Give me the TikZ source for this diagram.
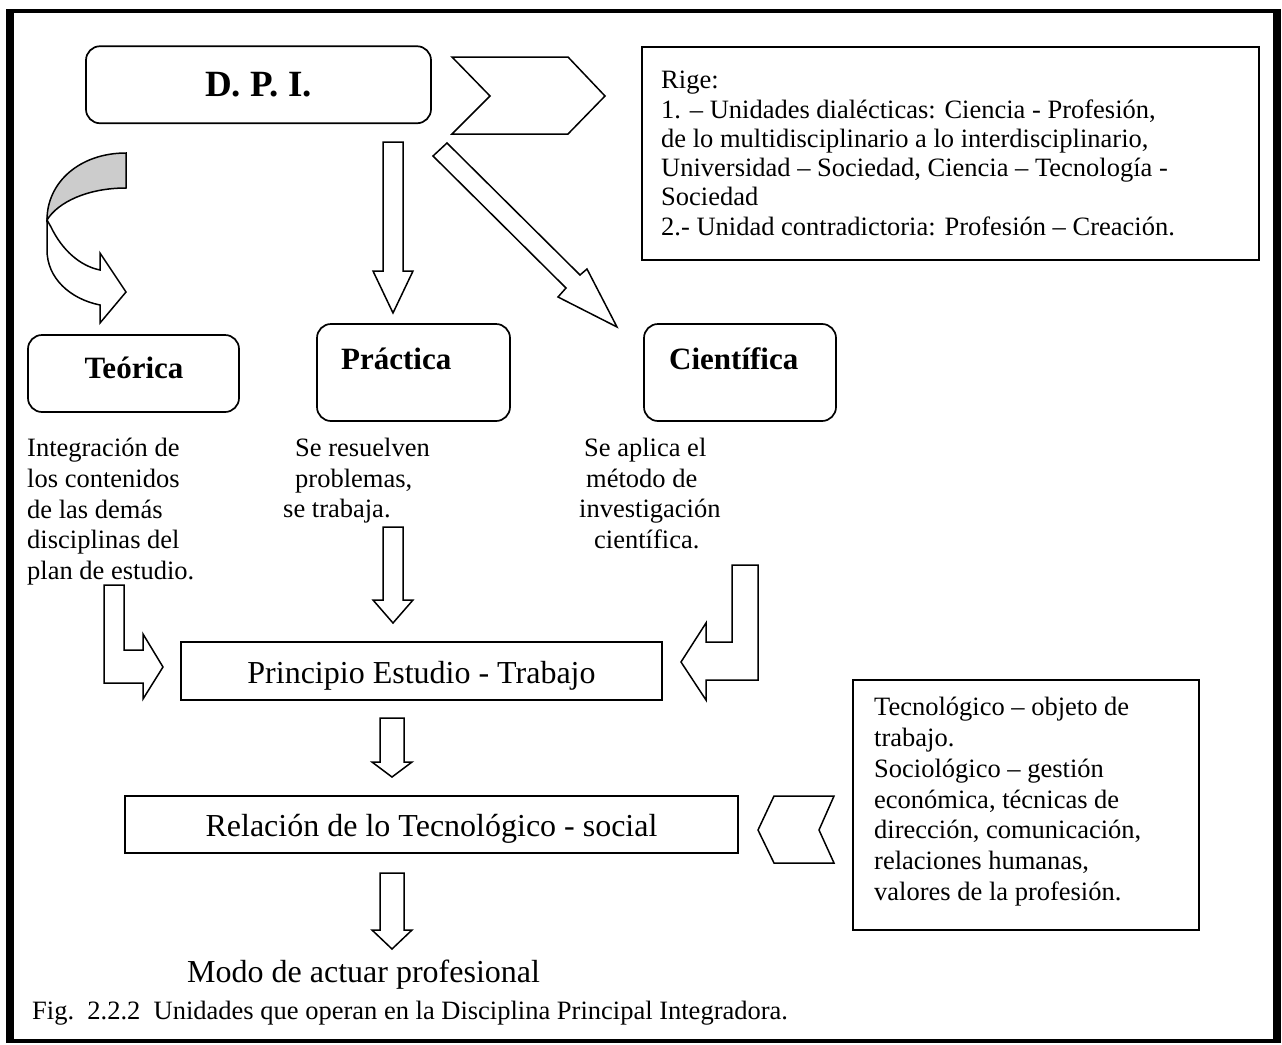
\documentclass[tikz,border=0pt]{standalone}
\usepackage{fontspec}
\setmainfont{Liberation Serif}
\begin{document}
\begin{tikzpicture}[x=1pt,y=-1pt,
  box/.style={draw,line width=1.7pt,inner sep=0pt},
  rbox/.style={box,rounded corners=14pt},
  blk/.style={draw,fill=white,line width=1.5pt,line join=miter},
  body/.style={font=\fontsize{26.5}{30.7}\selectfont,align=left,inner sep=0pt,anchor=north west},
  head/.style={font=\fontsize{31}{36}\selectfont\bfseries,inner sep=0pt},
  big/.style={font=\fontsize{32}{38}\selectfont,inner sep=0pt}]
\useasboundingbox (0,0) rectangle (1282,1044);

% page frame
\draw[line width=3.5pt] (10,11) rectangle (1276.5,1041);
\draw[line width=8pt] (10,9.25) -- (10,1042.75);
\draw[line width=8pt] (1276.5,9.25) -- (1276.5,1042.75);

% boxes
\node[rbox,minimum width=345pt,minimum height=77pt] (dpi) at (258.5,84.75) {};
\node[font=\fontsize{37}{42}\selectfont\bfseries,inner sep=0pt,anchor=base] (dpitxt) at (258.5,96) {D. P. I.};

\node[box,line width=1.4pt,minimum width=617pt,minimum height=213pt] (rige) at (950.5,153.5) {};
\node[body,font=\fontsize{26.5}{29.3}\selectfont] (rigetxt) at (661,71) {Rige:\\
1. – Unidades dialécticas: Ciencia - Profesión,\\
de lo multidisciplinario a lo interdisciplinario,\\
Universidad – Sociedad, Ciencia – Tecnología -\\
Sociedad\\
2.- Unidad contradictoria: Profesión – Creación.};

\node[rbox,minimum width=211pt,minimum height=77pt] (teo) at (133.5,373.5) {};
\node[head,anchor=base] (teotxt) at (134,378) {Teórica};
\node[rbox,minimum width=193pt,minimum height=97pt] (pra) at (413.5,372.5) {};
\node[head,anchor=base west] (pratxt) at (341,369) {Práctica};
\node[rbox,minimum width=192pt,minimum height=97pt] (cie) at (740,372.5) {};
\node[head,anchor=base west] (cietxt) at (669,369) {Científica};

% descriptions under the three kinds of work
\node[body] (teodesc) at (27,438) {Integración de\\los contenidos\\de las demás\\disciplinas del\\plan de estudio.};
\node[body] (pradesc) at (283,438) {\hspace*{12pt}Se resuelven\\\hspace*{12pt}problemas,\\se trabaja.};
\node[body] (ciedesc) at (579,438) {\hspace*{5pt}Se aplica el\\\hspace*{7pt}método de\\investigación\\\hspace*{15pt}científica.};

\node[box,minimum width=481pt,minimum height=58pt] (pri) at (421.5,671) {};
\node[big,anchor=base] (pritxt) at (421.5,683) {Principio Estudio - Trabajo};
\node[box,minimum width=613pt,minimum height=57pt] (rel) at (431.5,824.5) {};
\node[big,anchor=base] (reltxt) at (431.5,836) {Relación de lo Tecnológico - social};

\node[box,line width=1.4pt,minimum width=346pt,minimum height=250pt] (tec) at (1026,805) {};
\node[body,font=\fontsize{26.5}{30.8}\selectfont] (tectxt) at (874,697) {Tecnológico – objeto de\\trabajo.\\Sociológico – gestión\\económica, técnicas de\\dirección, comunicación,\\relaciones humanas,\\valores de la profesión.};

\node[big,anchor=base west] (modo) at (187,982) {Modo de actuar profesional};
\node[body,anchor=base west] (caption) at (32,1019) {Fig.\ \ 2.2.2\ \ Unidades que operan en la Disciplina Principal Integradora.};

% chevrons
\draw[blk] (452,57) -- (568,57) -- (605,96) -- (568,134) -- (452,134) -- (490,96) -- cycle;
\draw[blk] (774,796) -- (834,796) -- (819,830) -- (834,863) -- (774,863) -- (758,830) -- cycle;

% straight block arrows
\draw[blk] (383,142) -- (403,142) -- (403,271) -- (413,271) -- (393,313) -- (373,271) -- (383,271) -- cycle;
\draw[blk] (447,143) -- (580,275) -- (587,269) -- (617,327) -- (558,297) -- (566,288) -- (433,156) -- cycle;
\draw[blk] (383,527) -- (403,527) -- (403,600) -- (413,600) -- (393,623) -- (373,600) -- (383,600) -- cycle;
\draw[blk] (380,718) -- (404,718) -- (404,762) -- (412,762) -- (392,777) -- (372,762) -- (380,762) -- cycle;
\draw[blk] (380,873) -- (404,873) -- (404,930) -- (412,930) -- (392,949) -- (372,930) -- (380,930) -- cycle;

% bent block arrows
\draw[blk] (104,585) -- (124,585) -- (124,650) -- (143,650) -- (143,634) -- (163,667) -- (143,699) -- (143,683) -- (104,683) -- cycle;
\draw[blk] (732,565) -- (758,565) -- (758,680) -- (706,680) -- (706,700) -- (681,662) -- (706,623) -- (706,642) -- (732,642) -- cycle;

% curved block arrow: shaded back face and white front face
\draw[blk,fill=black!20] (126,153) .. controls (80,153) and (47,182) .. (47,220)
  .. controls (58,202) and (88,188) .. (126,188) -- cycle;
\draw[blk] (51,227) .. controls (62,250) and (80,266) .. (100,270) -- (100,253) -- (126,292)
  -- (100,323) -- (100,305) .. controls (70,299) and (47,278) .. (47,250) -- (47,220) -- cycle;
\end{tikzpicture}
\end{document}
